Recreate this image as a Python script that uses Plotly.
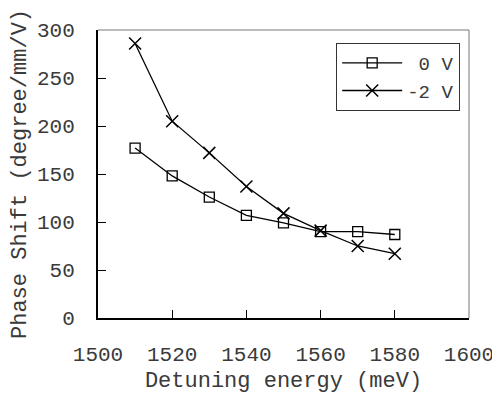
import plotly.graph_objects as go

energy = [1510, 1520, 1530, 1540, 1550, 1560, 1570, 1580]
shift_0v = [177, 148, 126, 107, 99, 90, 90, 87]
shift_m2v = [286, 205, 172, 137, 109, 91, 75, 67]
names = ["\u00a00\u00a0V", "-2\u00a0V"]
x_ticks = [1500, 1520, 1540, 1560, 1580, 1600]
y_ticks = [0, 50, 100, 150, 200, 250, 300]

FONT = "Liberation Mono, Courier New, monospace"
TXT = "#3a3a3a"

fig = go.Figure()
fig.add_trace(go.Scatter(
    x=energy, y=shift_0v, name=names[0], mode="lines+markers",
    line=dict(color="black", width=1.3),
    marker=dict(symbol="square-open", size=10, color="black", line=dict(width=1.3)),
))
fig.add_trace(go.Scatter(
    x=energy, y=shift_m2v, name=names[1], mode="lines+markers",
    line=dict(color="black", width=1.3),
    marker=dict(symbol="x-thin-open", size=12, color="black", line=dict(width=1.5)),
))

# top / right frame lines (thin gray)
fig.add_shape(type="line", xref="paper", yref="paper", x0=0, x1=1, y0=1, y1=1,
              line=dict(color="#777777", width=1))
fig.add_shape(type="line", xref="paper", yref="paper", x0=1, x1=1, y0=0, y1=1,
              line=dict(color="#777777", width=1))

# page body has an 8px default margin, so the figure is 8px smaller
fig.update_layout(
    width=492, height=386,
    margin=dict(l=90, r=31, t=22, b=76),
    paper_bgcolor="white", plot_bgcolor="white",
    font=dict(family=FONT, size=21, color=TXT),
    showlegend=True,
    legend=dict(x=0.642, y=0.955, xanchor="left", yanchor="top",
                bgcolor="white", bordercolor="#333333", borderwidth=1,
                font=dict(family=FONT, size=19, color=TXT),
                tracegroupgap=0, itemwidth=60),
    xaxis=dict(range=[1500, 1600], tickvals=x_ticks, ticks="inside", ticklen=8,
               tickcolor="black", showline=True, linecolor="black", linewidth=2,
               showgrid=False, zeroline=False, ticklabelstandoff=16, automargin=False,
               ticklabeloverflow="allow", tickfont=dict(size=21),
               title=dict(text="Detuning energy (meV)", standoff=12,
                          font=dict(family=FONT, size=22, color=TXT))),
    yaxis=dict(range=[0, 300], tickvals=y_ticks, ticks="inside", ticklen=8,
               tickcolor="black", showline=True, linecolor="black", linewidth=2,
               showgrid=False, zeroline=False, ticklabelstandoff=17, automargin=False,
               ticklabeloverflow="allow", tickfont=dict(size=21),
               title=dict(text="Phase Shift (degree/mm/V)", standoff=4,
                          font=dict(family=FONT, size=22, color=TXT))),
)

fig.write_html("out.html")
